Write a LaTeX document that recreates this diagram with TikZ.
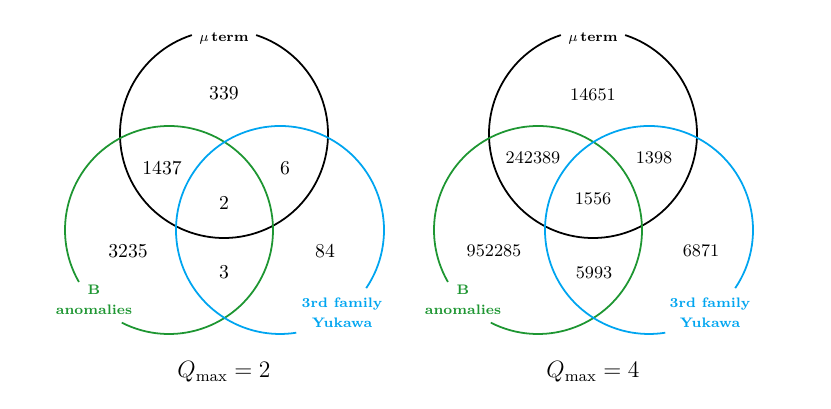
\documentclass[tikz,border=0pt]{standalone}
\usepackage{amsmath}
\definecolor{vgreen}{RGB}{30,150,50}
\definecolor{vblue}{RGB}{0,165,240}
\begin{document}
\begin{tikzpicture}[x=0.508pt,y=-0.508pt,
  ring/.style={line width=0.9pt},
  numL/.style={font=\normalsize},
  numR/.style={font=\small},
  lbl/.style={font=\scriptsize\bfseries,align=center,inner sep=1pt}]
\useasboundingbox (0,0) rectangle (831,409);
\def\R{52.83pt}
% ---------- left diagram ----------
\coordinate (k1) at (224,134);
\coordinate (g1) at (169,230);
\coordinate (b1) at (280,230);
\draw[ring,black] (k1) ++(108:\R) arc[start angle=108,end angle=432,radius=\R];
\draw[ring,vgreen] (g1) ++(243:\R) arc[start angle=243,end angle=570,radius=\R];
\draw[ring,vblue] (b1) ++(-34:\R) arc[start angle=-34,end angle=279,radius=\R];
\node[lbl,font=\scriptsize] (mu1) at (224,38) {$\mu$\,\textbf{term}};
\node[lbl,text=vgreen] (ba1) at (94,300) {B\\[2pt]anomalies};
\node[lbl,text=vblue] (yk1) at (342,313) {3rd family\\[2pt]Yukawa};
\node[numL] (a1) at (224,93) {339};
\node[numL] (a2) at (162,168) {1437};
\node[numL] (a3) at (285,168) {6};
\node[numL] (a4) at (224,203) {2};
\node[numL] (a5) at (128,251) {3235};
\node[numL] (a6) at (325,251) {84};
\node[numL] (a7) at (224,272) {3};
\node[font=\large] (q1) at (224,372) {$Q_{\max}=2$};
% ---------- right diagram ----------
\coordinate (k2) at (593,134);
\coordinate (g2) at (538,230);
\coordinate (b2) at (649,230);
\draw[ring,black] (k2) ++(108:\R) arc[start angle=108,end angle=432,radius=\R];
\draw[ring,vgreen] (g2) ++(243:\R) arc[start angle=243,end angle=570,radius=\R];
\draw[ring,vblue] (b2) ++(-34:\R) arc[start angle=-34,end angle=279,radius=\R];
\node[lbl,font=\scriptsize] (mu2) at (593,38) {$\mu$\,\textbf{term}};
\node[lbl,text=vgreen] (ba2) at (463,300) {B\\[2pt]anomalies};
\node[lbl,text=vblue] (yk2) at (710,313) {3rd family\\[2pt]Yukawa};
\node[numR] (c1) at (593,95) {14651};
\node[numR] (c2) at (533,158) {242389};
\node[numR] (c3) at (654,158) {1398};
\node[numR] (c4) at (593,199) {1556};
\node[numR] (c5) at (494,251) {952285};
\node[numR] (c6) at (701,251) {6871};
\node[numR] (c7) at (594,273) {5993};
\node[font=\large] (q2) at (593,372) {$Q_{\max}=4$};
\end{tikzpicture}
\end{document}
